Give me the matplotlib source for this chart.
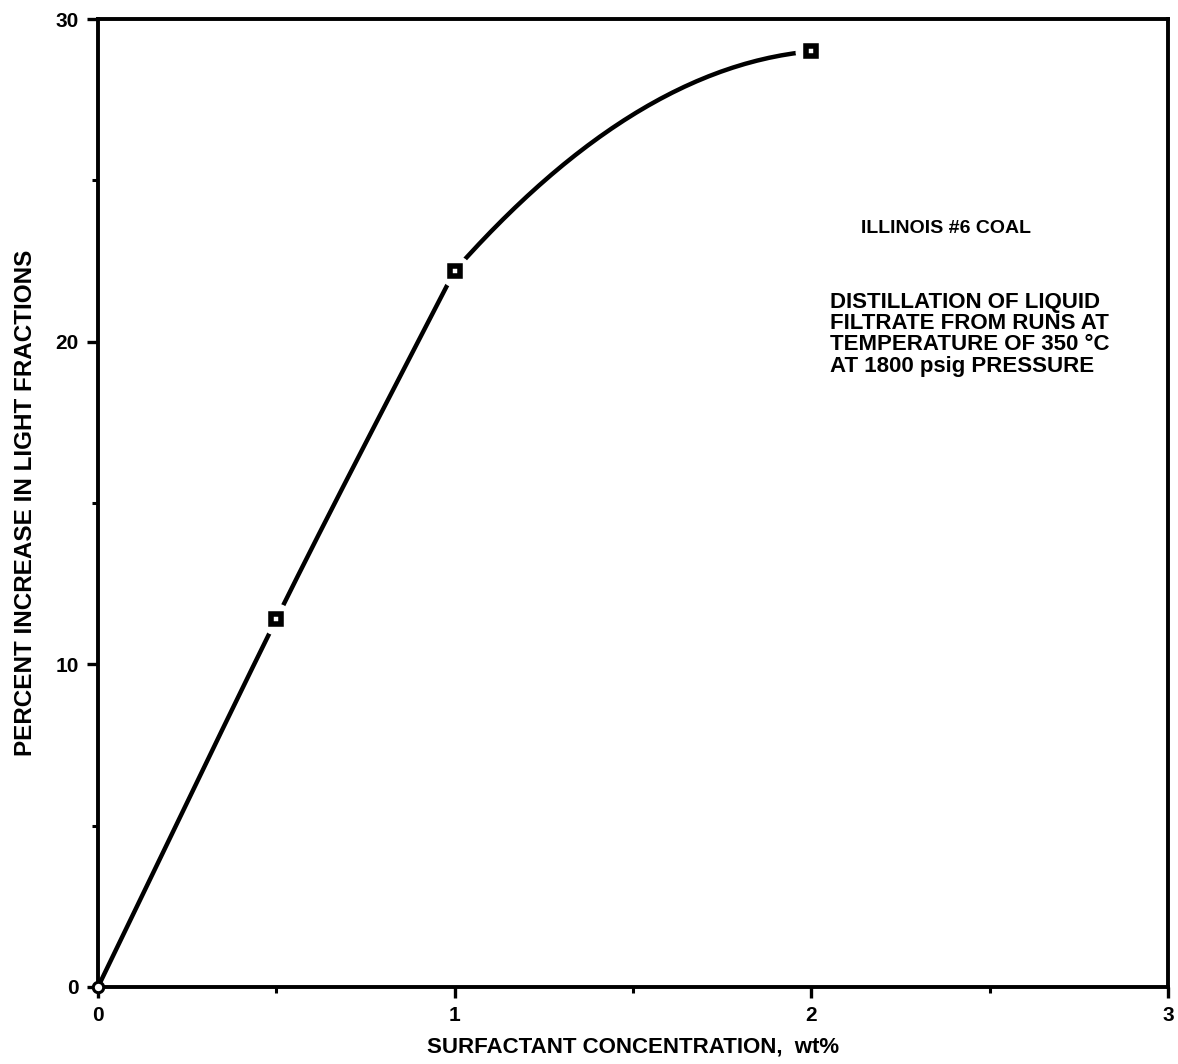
import matplotlib
matplotlib.use("Agg")
import matplotlib.pyplot as plt
import numpy as np

# measured points (surfactant wt%, % increase in light fractions)
conc = [0.0, 0.5, 1.0, 2.0]
increase = [0.0, 11.4, 22.2, 29.0]
# slope of the hand drawn curve leaving / entering each point
slope_in = [22.8, 22.4, 21.6, 1.0]
slope_out = [22.8, 22.4, 12.5, 1.0]

x_ticks = [0, 1, 2, 3]
y_ticks = [0, 10, 20, 30]

plt.rcParams['font.family'] = ['Liberation Sans', 'DejaVu Sans']
plt.rcParams['font.weight'] = 'bold'

fig = plt.figure(figsize=(11.78, 10.64), dpi=100)
ax = fig.add_axes([0.0832, 0.0724, 0.9083, 0.9097])

# smooth curve: cubic hermite between the points
cx, cy = [], []
for i in range(len(conc) - 1):
    x0, x1 = conc[i], conc[i + 1]
    y0, y1 = increase[i], increase[i + 1]
    h = x1 - x0
    t = np.linspace(0, 1, 60)
    h00 = 2*t**3 - 3*t**2 + 1
    h10 = t**3 - 2*t**2 + t
    h01 = -2*t**3 + 3*t**2
    h11 = t**3 - t**2
    cx.append(x0 + t*h)
    cy.append(h00*y0 + h10*h*slope_out[i] + h01*y1 + h11*h*slope_in[i + 1])
cx = np.concatenate(cx)
cy = np.concatenate(cy)

ax.set_xlim(0, 3)
ax.set_ylim(0, 30)

ax.plot(cx, cy, color='black', lw=3.2, solid_capstyle='round', zorder=2)
# white halo so the line stops short of each marker
ax.plot(conc[1:], increase[1:], 'o', ms=22, mfc='white', mec='white', zorder=3)
ax.plot(conc[1:], increase[1:], 's', ms=6.5, mfc='white', mec='black', mew=4, zorder=4)
ax.plot(conc[:1], increase[:1], 'o', ms=7.5, mfc='white', mec='black', mew=2.2, zorder=5, clip_on=False)

ax.set_xticks(x_ticks)
ax.set_yticks(y_ticks)
ax.set_xticks([0.5, 1.5, 2.5], minor=True)
ax.set_yticks([5, 15, 25], minor=True)
ax.tick_params(which='major', direction='out', length=8, width=2.4, labelsize=15, pad=6)
ax.tick_params(which='minor', direction='out', length=4, width=2.2)
for s in ax.spines.values():
    s.set_linewidth(2.8)

ax.set_xlabel('SURFACTANT CONCENTRATION,  wt%', fontsize=16, fontweight='bold', labelpad=8)
ax.set_ylabel('PERCENT INCREASE IN LIGHT FRACTIONS', fontsize=17.5, fontweight='bold', labelpad=13)

ax.text(2.138, 23.5, 'ILLINOIS #6 COAL', fontsize=14, fontweight='bold', va='center', ha='left')
ax.text(2.053, 21.55, 'DISTILLATION OF LIQUID\nFILTRATE FROM RUNS AT\nTEMPERATURE OF 350 \u00b0C\nAT 1800 psig PRESSURE',
        fontsize=16, fontweight='bold', va='top', ha='left', linespacing=1.02)

fig.savefig('out.png', dpi=100)
